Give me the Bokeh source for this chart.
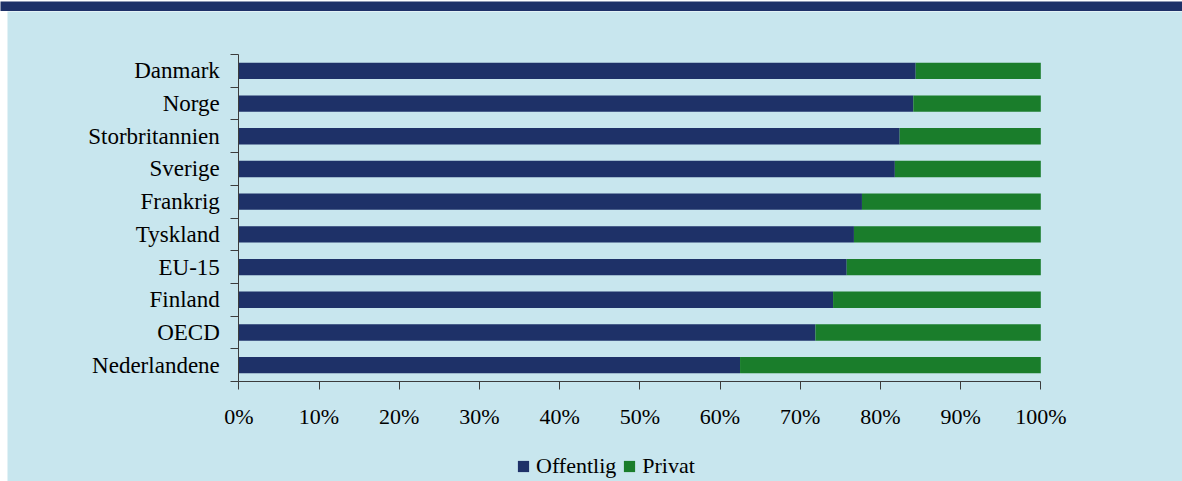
from bokeh.plotting import figure
from bokeh.models import (ColumnDataSource, Range1d, FixedTicker, Legend, LegendItem, Spacer)
from bokeh.layouts import column, row
from bokeh.embed import file_html
from bokeh.resources import INLINE

# ---- data (top to bottom as shown) ----
countries = ["Danmark", "Norge", "Storbritannien", "Sverige", "Frankrig",
             "Tyskland", "EU-15", "Finland", "OECD", "Nederlandene"]
offentlig = [84.4, 84.1, 82.4, 81.8, 77.7, 76.7, 75.8, 74.1, 71.9, 62.5]
privat = [15.6, 15.9, 17.6, 18.2, 22.3, 23.3, 24.2, 25.9, 28.1, 37.5]
x_ticks = [0, 10, 20, 30, 40, 50, 60, 70, 80, 90, 100]
x_tick_labels = ["0%", "10%", "20%", "30%", "40%", "50%", "60%", "70%", "80%", "90%", "100%"]
series_names = ["Offentlig", "Privat"]

NAVY = "#1E3168"
GREEN = "#1A7D2B"
BG = "#C8E6EE"
FONT = "Liberation Serif"

n = len(countries)
centers = [n - i - 0.5 for i in range(n)]
source = ColumnDataSource(dict(y=centers, Offentlig=offentlig, Privat=privat, land=countries))

# top navy band
band = figure(width=1182, height=11, output_backend="svg", toolbar_location=None,
              min_border=0, x_range=Range1d(0, 1), y_range=Range1d(0, 1))
band.background_fill_color = NAVY
band.border_fill_color = NAVY
band.outline_line_color = None
band.axis.visible = False
band.grid.visible = False

# main chart: the frame fills the whole canvas; axes are fixed at x=0 / y=0
FIG_W, FIG_H = 1175, 470
X0_PX, PX_PER_PCT = 231.3, 8.02      # where 0% sits, and px per percent
Y10_PX, ROW_PX = 43.0, 32.7          # where the top of the category block sits
x_lo = -X0_PX / PX_PER_PCT
x_hi = (FIG_W - X0_PX) / PX_PER_PCT
y_hi = n + Y10_PX / ROW_PX
y_lo = n - (FIG_H - Y10_PX) / ROW_PX

p = figure(width=FIG_W, height=FIG_H, output_backend="svg", toolbar_location=None,
           x_range=Range1d(x_lo, x_hi), y_range=Range1d(y_lo, y_hi), min_border=0)
p.background_fill_color = BG
p.border_fill_color = BG
p.outline_line_color = None
p.xgrid.visible = False
p.ygrid.visible = False

rs = p.hbar_stack(series_names, y="y", height=0.5, color=[NAVY, GREEN], source=source, line_color=None)

# y axis: labels at centers, ticks at boundaries
ya = p.yaxis[0]
ya.fixed_location = 0
ya.bounds = (0, n)
ya.ticker = FixedTicker(ticks=centers, minor_ticks=[float(i) for i in range(n + 1)])
ya.major_label_overrides = {c: lab for c, lab in zip(centers, countries)}
ya.major_tick_out = 0
ya.major_tick_in = 0
ya.minor_tick_out = 8
ya.minor_tick_in = 0
ya.minor_tick_line_color = "#3C3C3C"
ya.axis_line_color = "#3C3C3C"
ya.major_label_standoff = 11
ya.major_label_text_font = FONT
ya.major_label_text_font_size = "23px"
ya.major_label_text_color = "black"

xa = p.xaxis[0]
xa.fixed_location = 0
xa.bounds = (0, 100)
xa.ticker = FixedTicker(ticks=x_ticks, minor_ticks=[])
xa.major_label_overrides = {t: lab for t, lab in zip(x_ticks, x_tick_labels)}
xa.major_tick_out = 8
xa.major_tick_in = 0
xa.minor_tick_out = 0
xa.major_tick_line_color = "#3C3C3C"
xa.axis_line_color = "#3C3C3C"
xa.major_label_standoff = 14
xa.major_label_text_font = FONT
xa.major_label_text_font_size = "22px"
xa.major_label_text_color = "black"

legend = Legend(items=[LegendItem(label=series_names[0], renderers=[rs[0]]),
                       LegendItem(label=series_names[1], renderers=[rs[1]])],
                orientation="horizontal", location=(509, 2),
                glyph_width=14, glyph_height=14, label_standoff=6, spacing=6,
                padding=0, margin=0, border_line_color=None, background_fill_alpha=0,
                label_text_font=FONT, label_text_font_size="22px", label_text_color="black")
p.add_layout(legend, "center")

layout = column(band, row(Spacer(width=7, height=FIG_H), p, spacing=0), spacing=0)

open("out.html", "w").write(file_html(layout, INLINE))
